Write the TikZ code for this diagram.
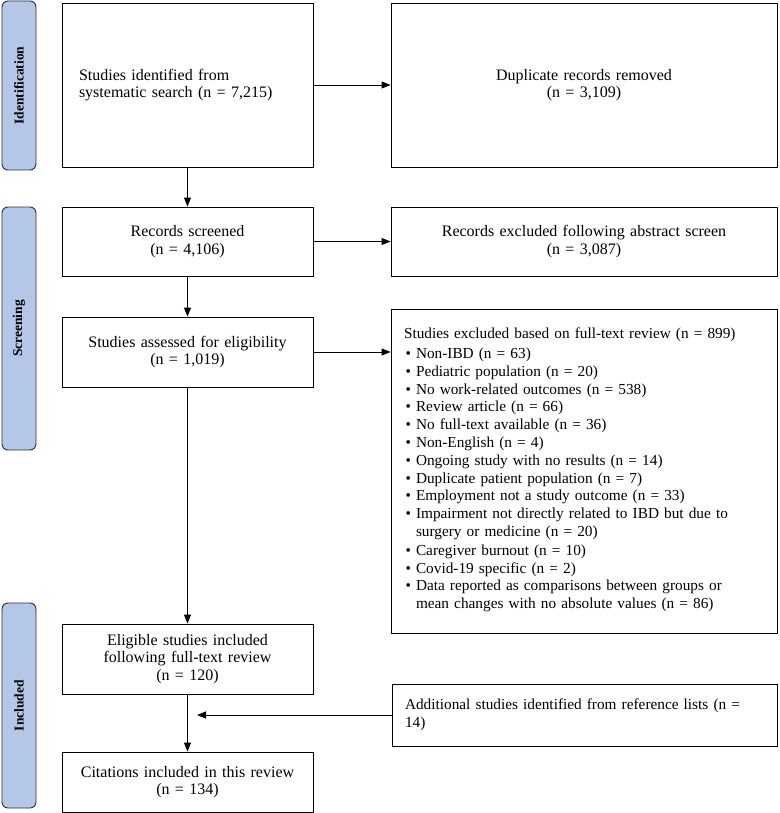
\documentclass[tikz,border=0pt]{standalone}
\usepackage{fontspec}
\setmainfont{Liberation Serif}
\usepackage{xcolor}
\usetikzlibrary{arrows.meta}
\definecolor{phaseblue}{RGB}{180,199,231}
\definecolor{phaseline}{RGB}{40,46,60}
\newcommand{\flowfont}{\fontsize{16}{17.6}\selectfont}
\newcommand{\listfont}{\fontsize{15.3}{17.8}\selectfont}
\newcommand{\phasefont}{\fontsize{13.5}{15}\selectfont\bfseries}
\newcommand{\exitem}[1]{\par\noindent\makebox[12pt][l]{\strut\hspace{1.5pt}\textbullet}\parbox[t]{346pt}{\raggedright\strut #1\strut}}
\tikzstyle{arrow} = [line width=0.9pt,-{Triangle[length=9pt,width=7pt]}]
\tikzstyle{stagebox} = [rectangle, draw=black, line width=0.9pt, inner xsep=12pt, inner ysep=4pt, align=center, font=\flowfont]
\tikzstyle{phase} = [rectangle, rounded corners=6pt, draw=phaseline, fill=phaseblue, line width=0.9pt, minimum height=34pt, font=\phasefont]

\begin{document}
\begin{tikzpicture}[x=1pt,y=-1pt]
\useasboundingbox (0,0) rectangle (779,813);
% Phase bars
\node[phase, rotate=90, minimum width=169pt] (pid) at (19,85.5) {Identification};
\node[phase, rotate=90, minimum width=243pt] (pscr) at (19,328.5) {Screening};
\node[phase, rotate=90, minimum width=205pt] (pinc) at (19,705.5) {Included};

% Left column
\node[stagebox, text width=217pt, inner xsep=17pt, align=left, minimum height=164pt] (ident) at (187.5,85) {
Studies identified from\\systematic search (n = 7,215)
};
\node[stagebox, text width=227pt, minimum height=69pt] (screened) at (187.5,241.5) {
Records screened\\(n = 4,106)
};
\node[stagebox, text width=227pt, minimum height=70pt] (assessed) at (187.5,352) {
Studies assessed for eligibility\\(n = 1,019)
};
\node[stagebox, text width=227pt, minimum height=70pt] (eligible) at (187.5,659) {
Eligible studies included\\following full-text review\\(n = 120)
};
\node[stagebox, text width=227pt, minimum height=60pt] (citations) at (187.5,782) {
Citations included in this review\\(n = 134)
};

% Right column
\node[stagebox, text width=362pt, minimum height=164pt] (dup) at (584,85) {
Duplicate records removed\\(n = 3,109)
};
\node[stagebox, text width=362pt, minimum height=69pt] (recexcl) at (584,241.5) {
Records excluded following abstract screen\\(n = 3,087)
};
\node[stagebox, text width=360pt, inner xsep=13pt, align=left, minimum height=324pt, font=\listfont] (ftexcl) at (584,471) {
Studies excluded based on full-text review (n = 899)\par\vspace{2pt}
\exitem{Non-IBD (n = 63)}
\exitem{Pediatric population (n = 20)}
\exitem{No work-related outcomes (n = 538)}
\exitem{Review article (n = 66)}
\exitem{No full-text available (n = 36)}
\exitem{Non-English (n = 4)}
\exitem{Ongoing study with no results (n = 14)}
\exitem{Duplicate patient population (n = 7)}
\exitem{Employment not a study outcome (n = 33)}
\exitem{Impairment not directly related to IBD but due to\\surgery or medicine (n = 20)}
\exitem{Caregiver burnout (n = 10)}
\exitem{Covid-19 specific (n = 2)}
\exitem{Data reported as comparisons between groups or\\mean changes with no absolute values (n = 86)}
};
\node[stagebox, text width=359pt, inner xsep=13pt, align=left, minimum height=62pt, font=\listfont] (additional) at (584.5,715) {
Additional studies identified from reference lists (n =\\14)
};
\coordinate (merge) at (197,715);

% Arrows
\draw[arrow] (ident) -- (dup);
\draw[arrow] (ident) -- (screened);
\draw[arrow] (screened) -- (recexcl);
\draw[arrow] (screened) -- (assessed);
\draw[arrow] (assessed.east) -- (assessed.east -| ftexcl.west);
\draw[arrow] (assessed) -- (eligible);
\draw[arrow] (eligible) -- (citations);
\draw[arrow] (additional.west) -- (merge);
\end{tikzpicture}
\end{document}
